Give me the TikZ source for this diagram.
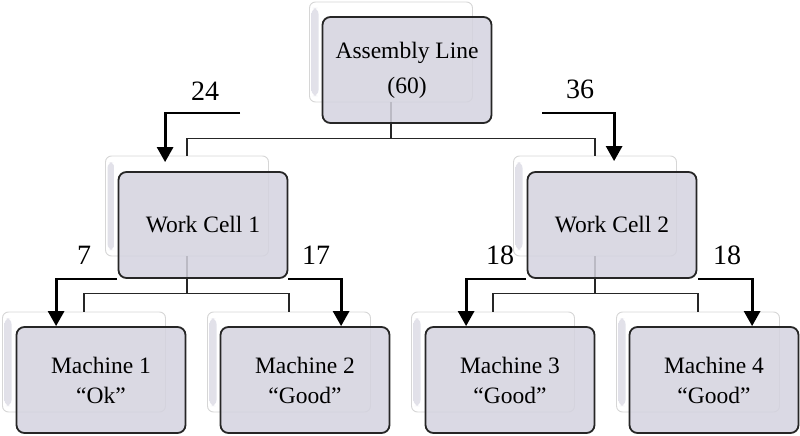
\documentclass[tikz,border=0pt]{standalone}
\usepackage{fontspec}
\setmainfont{Liberation Serif}
\usetikzlibrary{arrows.meta,calc}
\definecolor{boxfill}{RGB}{212,211,223}
\definecolor{backedge}{RGB}{214,214,214}
\begin{document}
\begin{tikzpicture}[x=1pt,y=-1pt,
  back/.style={draw=backedge,fill=white,line width=0.9pt,rounded corners=6pt,
    minimum width=163pt,minimum height=100pt,inner sep=0pt,
    path picture={\fill[left color=boxfill!70,right color=white]
      ([xshift=2pt,yshift=-6pt]path picture bounding box.north west) rectangle
      ([xshift=9pt,yshift=6pt]path picture bounding box.south west);}},
  front/.style={draw=black!85,fill=boxfill,fill opacity=0.86,text opacity=1,
    line width=1.8pt,rounded corners=8pt,minimum width=169pt,minimum height=106pt,
    inner sep=0pt,align=center,font=\fontsize{23.5}{30}\selectfont},
  conn/.style={line width=1.3pt,black!85},
  flow/.style={line width=2.8pt,-{Triangle[width=16pt,length=15pt]}},
  num/.style={font=\fontsize{28}{30}\selectfont}]
\useasboundingbox (0,0) rectangle (800,436);

% back boxes
\node[back] (alb) at (391,52) {};
\node[back] (wc1b) at (187,206) {};
\node[back] (wc2b) at (595,206) {};
\node[back] (m1b) at (84,362) {};
\node[back] (m2b) at (289,362) {};
\node[back] (m3b) at (493,362) {};
\node[back] (m4b) at (698,362) {};

% hierarchy connectors
\draw[conn] (alb.south) -- ++(0,36) coordinate (busA) -| (wc1b.north);
\draw[conn] (busA) -| (wc2b.north);
\draw[conn] (wc1b.south) -- ++(0,37) coordinate (busB) -| (m1b.north);
\draw[conn] (busB) -| (m2b.north);
\draw[conn] (wc2b.south) -- ++(0,37) coordinate (busC) -| (m3b.north);
\draw[conn] (busC) -| (m4b.north);

% front boxes
\node[front] (al) at (407,70) {Assembly Line\\[5pt](60)};
\node[front] (wc1) at (203,225) {Work Cell 1};
\node[front] (wc2) at (612,225) {Work Cell 2};
\node[front] (m1) at (101,380) {Machine 1\\“Ok”};
\node[front] (m2) at (305,380) {Machine 2\\“Good”};
\node[front] (m3) at (510,380) {Machine 3\\“Good”};
\node[front] (m4) at (714,380) {Machine 4\\“Good”};

% flow arrows
\coordinate (s24) at (240,113);
\coordinate (e24) at ($(wc1.north west)+(47.5,-9)$);
\coordinate (s36) at (542,113);
\coordinate (e36) at ($(wc2.north west)+(87.5,-10)$);
\coordinate (s7) at (117,279);
\coordinate (e7) at ($(m1.north west)+(40.5,0)$);
\coordinate (s17) at (288,279);
\coordinate (e17) at ($(m2.north west)+(121.5,0)$);
\coordinate (s18a) at (526,279);
\coordinate (e18a) at ($(m3.north west)+(41.5,0)$);
\coordinate (s18b) at (698,279);
\coordinate (e18b) at ($(m4.north west)+(123.5,0)$);
\draw[flow] (s24) -| (e24);
\draw[flow] (s36) -| (e36);
\draw[flow] (s7) -| (e7);
\draw[flow] (s17) -| (e17);
\draw[flow] (s18a) -| (e18a);
\draw[flow] (s18b) -| (e18b);

% flow labels
\node[num] (n24) at (205,91) {24};
\node[num] (n36) at (580,89) {36};
\node[num] (n7) at (84,255) {7};
\node[num] (n17) at (316,255) {17};
\node[num] (n18a) at (500,255) {18};
\node[num] (n18b) at (727,255) {18};
\end{tikzpicture}
\end{document}
